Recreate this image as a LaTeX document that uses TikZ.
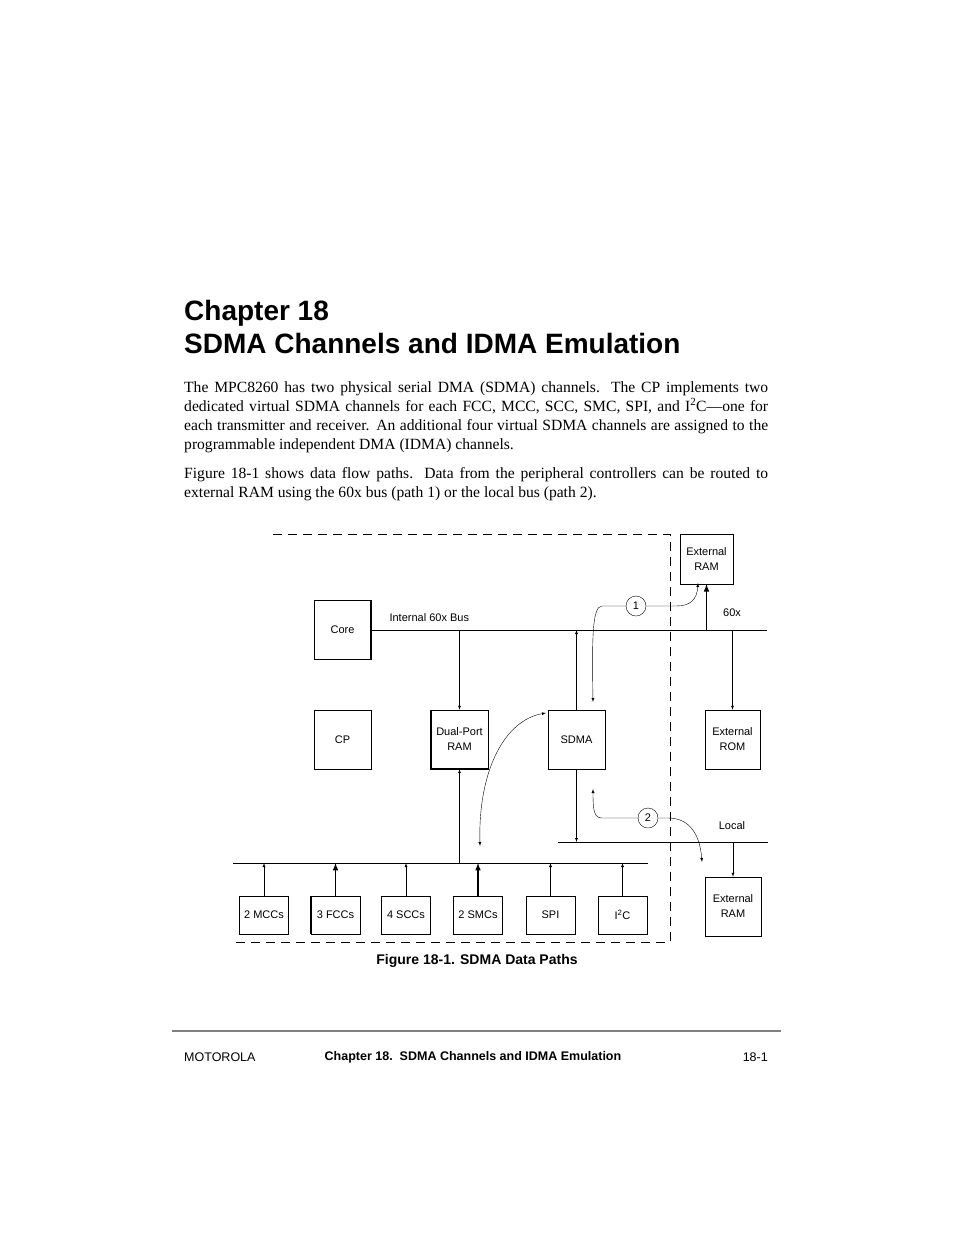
\documentclass[tikz,border=0pt]{standalone}
\usepackage{fontspec}
\setmainfont{Liberation Serif}
\setsansfont{Liberation Sans}
\usetikzlibrary{arrows}
\tikzset{
  blk/.style={draw,minimum width=57pt,minimum height=59pt,inner sep=0pt,font=\sffamily\fontsize{11}{15}\selectfont,align=center},
  sblk/.style={draw,minimum width=49pt,minimum height=38pt,inner sep=0pt,font=\sffamily\fontsize{11}{15}\selectfont},
  path/.style={draw,circle,minimum size=20pt,inner sep=0pt,font=\sffamily\fontsize{11}{13}\selectfont},
  lbl/.style={font=\sffamily\fontsize{11}{13}\selectfont}
}
\begin{document}
\begin{tikzpicture}[x=1pt,y=-1pt,>=latex]
\useasboundingbox (0,0) rectangle (954,1235);
% heading and text
\node[anchor=west,font=\sffamily\bfseries\fontsize{28}{30}\selectfont,inner sep=0pt] (ch) at (184,313) {Chapter 18};
\node[anchor=west,font=\sffamily\bfseries\fontsize{28}{30}\selectfont,inner sep=0pt] (ti) at (184,343) {SDMA Channels and IDMA Emulation};
\node[anchor=north west,inner sep=0pt,text width=584pt,align=justify,font=\fontsize{15.6}{19}\selectfont] (p1) at (184,381)
{The MPC8260 has two physical serial DMA (SDMA) channels. The CP implements two\linebreak
dedicated virtual SDMA channels for each FCC, MCC, SCC, SMC, SPI, and I\textsuperscript{2}C---one for\linebreak
each transmitter and receiver. An additional four virtual SDMA channels are assigned to the\linebreak
programmable independent DMA (IDMA) channels.};
\node[anchor=north west,inner sep=0pt,text width=584pt,align=justify,font=\fontsize{15.6}{19}\selectfont] (p2) at (184,467)
{Figure 18-1 shows data flow paths. Data from the peripheral controllers can be routed to\linebreak
external RAM using the 60x bus (path 1) or the local bus (path 2).};

% dashed chip outline
\draw[dashed,dash pattern=on 9pt off 6pt,thick] (273,534) -- (670,534) -- (670,942) -- (233,942);

% blocks
\node[blk] (core) at (342.5,630) {Core};
\node[blk] (cp) at (342.5,739.5) {CP};
\node[blk] (dpr) at (459.5,739.5) {Dual-Port\\RAM};
\node[blk] (sdma) at (576.5,739.5) {SDMA};
\node[blk,minimum width=53pt,minimum height=50pt] (eram) at (706.5,559) {External\\RAM};
\node[blk,minimum width=55pt] (erom) at (732.5,739.5) {External\\ROM};
\node[blk,minimum width=56pt] (eram2) at (733,906.5) {External\\RAM};
\draw[line width=1.5pt] (core.north east) -- (core.south east) -- (core.south west);
\draw[line width=1.5pt] (dpr.north west) -- (dpr.south west) -- (dpr.south east);

% buses
\coordinate (b60w) at (371,630);
\coordinate (b60e) at (767,630);
\draw (b60w) -- (b60e);
\node[lbl,anchor=west] (l60) at (386,618) {Internal 60x Bus};
\node[lbl] (l60x) at (732,613) {60x};
\coordinate (blw) at (558,842);
\coordinate (ble) at (768,842);
\draw (blw) -- (ble);
\node[lbl] (lloc) at (732,826) {Local};
\coordinate (bpw) at (233,863);
\coordinate (bpe) at (648,863);
\draw (bpw) -- (bpe);

% bus arrows
\draw[->] (dpr.north |- b60w) -- (dpr.north);
\draw[->] (sdma.north) -- (sdma.north |- b60w);
\draw[->] (erom.north |- b60w) -- (erom.north);
\draw[->,line width=1.5pt] (eram.south |- b60w) -- (eram.south);
\draw[->] (sdma.south) -- (sdma.south |- blw);
\draw[->] (eram2.north |- blw) -- (eram2.north);
\draw[->] (dpr.south |- bpw) -- (dpr.south);

% peripherals
\foreach \nm/\x/\t/\w in {mcc/264/2 MCCs/0.4pt,fcc/335.5/3 FCCs/1.5pt,scc/406/4 SCCs/0.4pt,smc/478/2 SMCs/1.5pt,spi/550.5/SPI/0.4pt,iic/622.5/I\textsuperscript{2}C/0.4pt}{
  \node[sblk] (\nm) at (\x,915) {\t};
  \draw[->,line width=\w] (\nm.north) -- (\nm.north |- bpw);
}
\draw[line width=1.5pt] (fcc.north west) -- (fcc.south west);
\draw[line width=1.5pt] (smc.north east) -- (smc.south east);

% paths
\node[path] (c1) at (636,606) {1};
\node[path] (c2) at (648,818) {2};
\draw[->] (c1.west) -- (602,606) .. controls (592,606) and (592,640) .. (593,702);
\draw[->] (c1.east) -- (676,606) .. controls (690,606) and (697,600) .. (698,583);
\draw[->] (c2.west) -- (602,818) .. controls (594,818) and (593,810) .. (593,789);
\draw[->] (c2.east) -- (668,818) .. controls (690,818) and (700,835) .. (702,862);
\coordinate (dp1) at (480,846);
\coordinate (dp2) at (546,713);
\draw[<->] (dp1) .. controls (478,770) and (505,720) .. (dp2);

% caption and footer
\node[font=\sffamily\bfseries\fontsize{14}{16}\selectfont] (cap) at (477,961) {Figure 18-1. SDMA Data Paths};
\coordinate (fl) at (172,1031);
\coordinate (fr) at (781,1031);
\draw[gray,line width=2.5pt] (fl) -- (fr);
\node[anchor=west,inner sep=0pt,font=\sffamily\fontsize{12.5}{14}\selectfont] (f1) at (184,1057) {MOTOROLA};
\node[font=\sffamily\bfseries\fontsize{12.5}{14}\selectfont] (f2) at (473,1057) {Chapter 18.\ \ SDMA Channels and IDMA Emulation};
\node[anchor=east,inner sep=0pt,font=\sffamily\fontsize{12.5}{14}\selectfont] (f3) at (768,1057) {18-1};
\end{tikzpicture}
\end{document}
